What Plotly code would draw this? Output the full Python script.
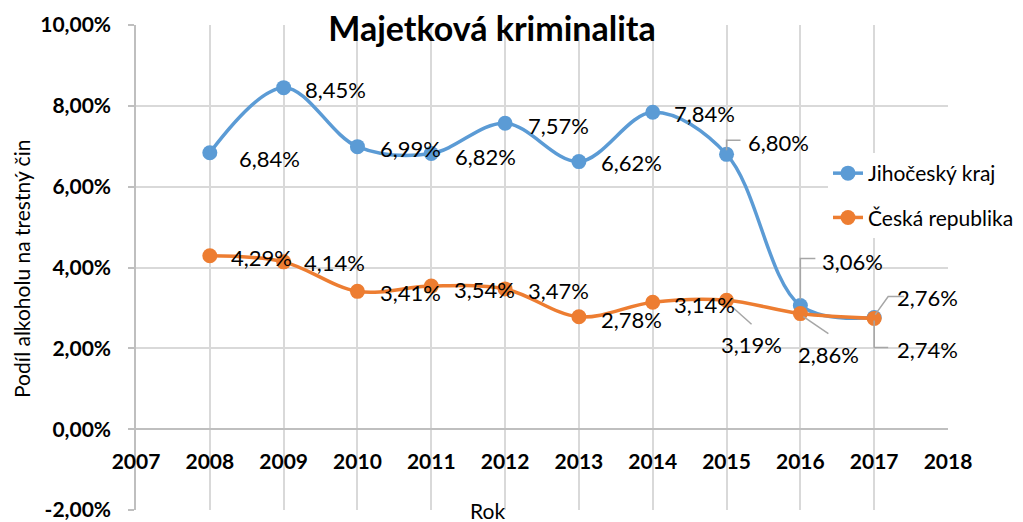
import plotly.graph_objects as go

years = [2008, 2009, 2010, 2011, 2012, 2013, 2014, 2015, 2016, 2017]
jihocesky = [6.84, 8.45, 6.99, 6.82, 7.57, 6.62, 7.84, 6.80, 3.06, 2.76]
ceska = [4.29, 4.14, 3.41, 3.54, 3.47, 2.78, 3.14, 3.19, 2.86, 2.74]
series_names = ["Jihočeský kraj", "Česká republika"]
y_tickvals = [-2, 0, 2, 4, 6, 8, 10]
y_ticktext = ["-2,00%", "0,00%", "2,00%", "4,00%", "6,00%", "8,00%", "10,00%"]
x_tickvals = list(range(2007, 2019))

BLUE = "#5B9BD5"
ORANGE = "#ED7D31"
GRID = "#d9d9d9"
FONT = "Lato"

# label offsets (pixels: right, down) relative to each point
blue_off = [(60, 6), (52, 2), (53, 2), (54, 3), (53, 2), (53, 1), (52, 1), (52, -12), (52, -44), (53, -20)]
orange_off = [(52, 2), (51, 1), (53, 1), (53, 3), (53, 2), (53, 3), (52, 2), (25, 44), (28, 41), (53, 31)]
# leader lines (pixel paths, y up) for some labels: (series, index, path)
leaders = [
    (0, 7, "M0,4 L0,14 L14,14"),
    (0, 8, "M0,6 L0,47 L15,47"),
    (0, 9, "M1,3 L14,21 L30,21"),
    (1, 7, "M6,-7 L25,-24"),
    (1, 8, "M3,-3 L28,-20"),
    (1, 9, "M0,-2 L0,-29 L14,-29"),
]


def fmt(v):
    return f"{v:.2f}".replace(".", ",") + "%"


# page body has an 8px default margin: compensate so the plot lands where intended
OFF = 8
W, H = 1023 - OFF, 522 - OFF
ml, mr, mt, mb = 136 - OFF, 75, 25 - OFF, 12
pw, ph = W - ml - mr, H - mt - mb


def px(xs):  # screen x -> paper
    return (xs - OFF - ml) / pw


def py(ys):  # screen y -> paper
    return (H - mb - (ys - OFF)) / ph


fig = go.Figure()
for i, (name, vals, col) in enumerate(zip(series_names, [jihocesky, ceska], [BLUE, ORANGE])):
    fig.add_trace(go.Scatter(
        x=years, y=vals, name=name, mode="lines+markers",
        line=dict(color=col, width=3.5, shape="spline", smoothing=1.0),
        marker=dict(color=col, size=15),
        legendgroup=f"g{i}",
    ))

annotations = []
for vals, offs in [(jihocesky, blue_off), (ceska, orange_off)]:
    for x, v, (dx, dy) in zip(years, vals, offs):
        annotations.append(dict(
            x=x, y=v, xref="x", yref="y", text=fmt(v), showarrow=False,
            xshift=dx, yshift=-dy, font=dict(family=FONT, size=22, color="#000"),
        ))

annotations.append(dict(
    x=px(487), y=py(510), xref="paper", yref="paper", text="Rok", showarrow=False,
    xanchor="center", yanchor="middle",
    font=dict(family=FONT, size=21, color="#000"),
))
annotations.append(dict(
    x=px(21), y=py(269), xref="paper", yref="paper", text="Podíl alkoholu na trestný čin",
    showarrow=False, textangle=-90, xanchor="center", yanchor="middle",
    font=dict(family=FONT, size=21, color="#000"),
))

shapes = []
for s, idx, path in leaders:
    vals = jihocesky if s == 0 else ceska
    shapes.append(dict(
        type="path", xref="x", yref="y", xsizemode="pixel", ysizemode="pixel",
        xanchor=years[idx], yanchor=vals[idx], path=path,
        line=dict(color="#a6a6a6", width=1.5), layer="above",
    ))

fig.update_layout(
    width=W, height=H,
    margin=dict(l=ml, r=mr, t=mt, b=mb, autoexpand=False),
    paper_bgcolor="white", plot_bgcolor="white",
    title=dict(text="<b>Majetková kriminalita</b>", xref="container", yref="container",
               x=(492 - OFF) / W, y=1 - (29 - OFF) / H, xanchor="center", yanchor="middle",
               font=dict(family=FONT, size=34, color="#000")),
    xaxis=dict(
        range=[2007, 2018], tickvals=x_tickvals, showgrid=True, gridcolor=GRID, gridwidth=1.5,
        zeroline=False, showline=True, linecolor="#bfbfbf", linewidth=1.5,
        anchor="free", position=2 / 12, ticks="", automargin=False,
        tickfont=dict(family=FONT, size=21, color="#000", weight="bold"),
        ticklabelstandoff=14,
    ),
    yaxis=dict(
        range=[-2, 10], tickvals=y_tickvals, ticktext=y_ticktext,
        showgrid=True, gridcolor=GRID, gridwidth=1.5, zeroline=False,
        showline=True, linecolor="#bfbfbf", linewidth=1.5,
        ticks="outside", ticklen=6, tickcolor="#bfbfbf", tickwidth=1.5,
        tickfont=dict(family=FONT, size=21, color="#000", weight="bold"),
        ticklabelstandoff=13, automargin=False,
    ),
    legend=dict(
        x=px(828), y=py(153), xanchor="left", yanchor="top",
        bgcolor="white", font=dict(family=FONT, size=21, color="#000"),
        tracegroupgap=14,
    ),
    annotations=annotations,
    shapes=shapes,
)

fig.write_html("out.html")
